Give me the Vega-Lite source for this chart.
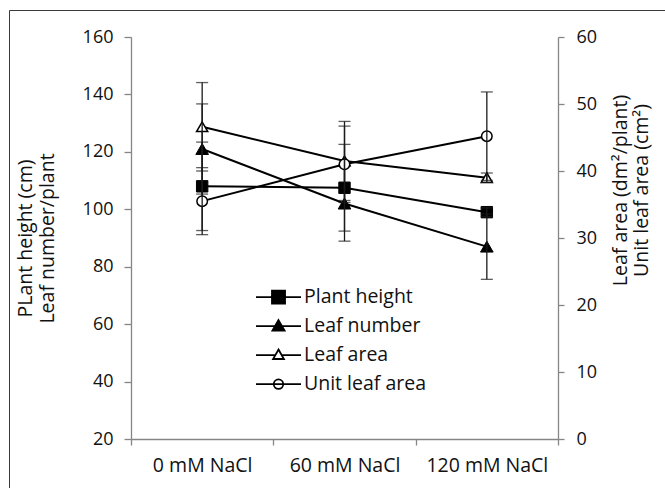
{
  "$schema": "https://vega.github.io/schema/vega-lite/v6.json",
  "width": 656,
  "height": 478,
  "autosize": "none",
  "padding": {"left": 9, "top": 10, "right": 0, "bottom": 0},
  "background": "white",
  "config": {
    "font": "Open Sans",
    "view": {"stroke": "#3a3a3a", "strokeWidth": 1},
    "axis": {
      "domainColor": "#868686", "tickColor": "#868686", "domainWidth": 1.3, "tickWidth": 1.3,
      "labelFont": "Open Sans", "labelFontSize": 18, "labelColor": "#111111",
      "titleFont": "Open Sans", "titleFontSize": 19.5, "titleFontWeight": "normal", "titleColor": "#111111",
      "grid": false
    },
    "legend": {
      "labelFont": "Open Sans", "labelFontSize": 19.5, "labelColor": "#111111"
    }
  },
  "data": {
    "values": [
      {"treatment": "0 mM NaCl", "series": "Plant height", "side": "left", "value": 108, "err": 15.4},
      {"treatment": "60 mM NaCl", "series": "Plant height", "side": "left", "value": 107.5, "err": 15.1},
      {"treatment": "120 mM NaCl", "series": "Plant height", "side": "left", "value": 99, "err": 1.5},
      {"treatment": "0 mM NaCl", "series": "Leaf number", "side": "left", "value": 121, "err": 15.7},
      {"treatment": "60 mM NaCl", "series": "Leaf number", "side": "left", "value": 102, "err": 13.1},
      {"treatment": "120 mM NaCl", "series": "Leaf number", "side": "left", "value": 87, "err": 11.4},
      {"treatment": "0 mM NaCl", "series": "Leaf area", "side": "right", "value": 46.6, "err": 6.6},
      {"treatment": "60 mM NaCl", "series": "Leaf area", "side": "right", "value": 41.5, "err": 5.9},
      {"treatment": "120 mM NaCl", "series": "Leaf area", "side": "right", "value": 39, "err": 0.7},
      {"treatment": "0 mM NaCl", "series": "Unit leaf area", "side": "right", "value": 35.5, "err": 5},
      {"treatment": "60 mM NaCl", "series": "Unit leaf area", "side": "right", "value": 41, "err": 5.7},
      {"treatment": "120 mM NaCl", "series": "Unit leaf area", "side": "right", "value": 45.2, "err": 6.6}
    ]
  },
  "encoding": {
    "x": {
      "field": "treatment", "type": "nominal",
      "sort": ["0 mM NaCl", "60 mM NaCl", "120 mM NaCl"],
      "scale": {"type": "band", "domain": ["0 mM NaCl", "60 mM NaCl", "120 mM NaCl"], "range": [122, 549], "paddingInner": 0, "paddingOuter": 0},
      "axis": {"title": null, "orient": "bottom", "offset": -49, "tickBand": "extent", "labelAngle": 0, "tickSize": 6, "labelPadding": 11, "labelFontSize": 19.5}
    }
  },
  "layer": [
    {
      "transform": [{"filter": "datum.side == 'left'"}],
      "encoding": {
        "y": {
          "field": "value", "type": "quantitative",
          "scale": {"domain": [20, 160], "range": [429, 27], "nice": false, "zero": false},
          "axis": {"orient": "left", "offset": -122, "values": [20, 40, 60, 80, 100, 120, 140, 160], "tickSize": 7, "labelPadding": 11,
                   "title": ["PLant height (cm)", "Leaf number/plant"], "titlePadding": 25}
        }
      },
      "layer": [
        {"mark": {"type": "line", "color": "black", "strokeWidth": 2}, "encoding": {"detail": {"field": "series"}}},
        {
          "mark": {"type": "point", "filled": true, "stroke": "black", "strokeWidth": 1, "opacity": 1, "fill": "black"},
          "encoding": {
            "shape": {"field": "series", "type": "nominal", "scale": {"domain": ["Plant height", "Leaf number"], "range": ["square", "triangle-up"]}, "legend": null},
            "size": {"field": "series", "type": "nominal", "scale": {"domain": ["Plant height", "Leaf number"], "range": [130, 160]}, "legend": null}
          }
        },
        {
          "mark": {"type": "errorbar", "ticks": {"size": 12, "color": "#1a1a1a", "thickness": 1.3}, "rule": {"color": "#1a1a1a", "strokeWidth": 1.3}},
          "encoding": {"yError": {"field": "err"}, "detail": {"field": "series"}}
        }
      ]
    },
    {
      "transform": [{"filter": "datum.side == 'right'"}],
      "encoding": {
        "y": {
          "field": "value", "type": "quantitative",
          "scale": {"domain": [0, 60], "range": [429, 27], "nice": false, "zero": false},
          "axis": {"orient": "right", "offset": -107, "values": [0, 10, 20, 30, 40, 50, 60], "tickSize": 6, "labelPadding": 12,
                   "title": ["Leaf area (dm²/plant)", "Unit leaf area (cm²)"], "titleAngle": -90, "titlePadding": 12, "titleY": 180}
        }
      },
      "layer": [
        {"mark": {"type": "line", "color": "black", "strokeWidth": 2}, "encoding": {"detail": {"field": "series"}}},
        {
          "mark": {"type": "point", "filled": true, "stroke": "black", "strokeWidth": 1.5, "opacity": 1, "fill": "white"},
          "encoding": {
            "shape": {"field": "series", "type": "nominal", "scale": {"domain": ["Leaf area", "Unit leaf area"], "range": ["triangle-up", "circle"]}, "legend": null},
            "size": {"field": "series", "type": "nominal", "scale": {"domain": ["Leaf area", "Unit leaf area"], "range": [125, 110]}, "legend": null}
          }
        },
        {
          "mark": {"type": "errorbar", "ticks": {"size": 12, "color": "#1a1a1a", "thickness": 1.3}, "rule": {"color": "#1a1a1a", "strokeWidth": 1.3}},
          "encoding": {"yError": {"field": "err"}, "detail": {"field": "series"}}
        }
      ]
    },
    {
      "transform": [{"filter": "false"}],
      "mark": {"type": "point", "filled": true, "stroke": "black", "strokeWidth": 1.8, "opacity": 1},
      "encoding": {
        "shape": {
          "field": "series", "type": "nominal",
          "scale": {
            "domain": ["Plant height", "Leaf number", "Leaf area", "Unit leaf area"],
            "range": [
              "M-1,0H-0.29M0.29,0H1M-0.29,-0.29H0.29V0.29H-0.29Z",
              "M-1,0H-0.15M0.15,0H1M0,-0.27L0.27,0.2L-0.27,0.2Z",
              "M-1,0H-0.14M0.14,0H1M0,-0.25L0.24,0.17L-0.24,0.17Z",
              "M-1,0H1M-0.21,0A0.21,0.21,0,1,0,0.21,0A0.21,0.21,0,1,0,-0.21,0Z"
            ]
          },
          "legend": {"orient": "none", "legendX": 246, "legendY": 274, "title": null, "symbolSize": 2025, "labelOffset": 2, "padding": 0, "rowPadding": 2, "clipHeight": 26.3, "symbolStrokeColor": "black", "symbolStrokeWidth": 1.8, "symbolOpacity": 1}
        },
        "fill": {
          "field": "series", "type": "nominal",
          "scale": {"domain": ["Plant height", "Leaf number", "Leaf area", "Unit leaf area"], "range": ["black", "black", "white", "white"]},
          "legend": {"orient": "none", "legendX": 246, "legendY": 274, "title": null, "symbolSize": 2025, "labelOffset": 2, "padding": 0, "rowPadding": 2, "clipHeight": 26.3, "symbolStrokeColor": "black", "symbolStrokeWidth": 1.8, "symbolOpacity": 1}
        },
        "stroke": {
          "field": "series", "type": "nominal",
          "scale": {"domain": ["Plant height", "Leaf number", "Leaf area", "Unit leaf area"], "range": ["black", "black", "black", "black"]},
          "legend": {"orient": "none", "legendX": 246, "legendY": 274, "title": null, "symbolSize": 2025, "labelOffset": 2, "padding": 0, "rowPadding": 2, "clipHeight": 26.3, "symbolStrokeColor": "black", "symbolStrokeWidth": 1.8, "symbolOpacity": 1}
        }
      }
    }
  ],
  "resolve": {"scale": {"y": "independent", "shape": "independent", "fill": "independent", "size": "independent", "stroke": "independent"}}
}
